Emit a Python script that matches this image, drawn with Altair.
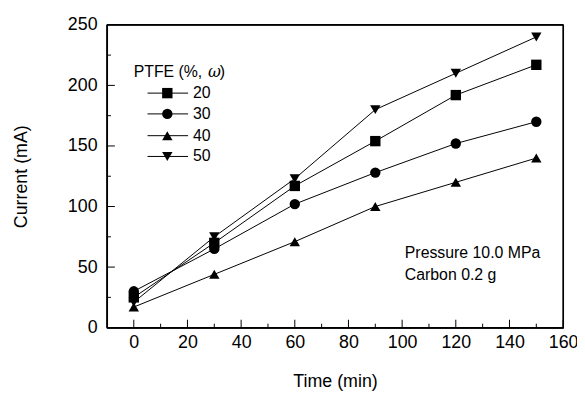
import altair as alt
import pandas as pd

time = [0, 30, 60, 90, 120, 150]
s20 = [25, 70, 117, 154, 192, 217]
s30 = [30, 65, 102, 128, 152, 170]
s40 = [17, 44, 71, 100, 120, 140]
s50 = [21, 75, 123, 180, 210, 240]
series_names = ["20", "30", "40", "50"]
shapes = ["square", "circle", "triangle-up", "triangle-down"]

x_major = [0, 20, 40, 60, 80, 100, 120, 140, 160]
x_minor = [10, 30, 50, 70, 90, 110, 130, 150]
y_major = [50, 100, 150, 200]
y_minor = [25, 75, 125, 175, 225]
x_limits = [-10, 160]
y_limits = [0, 250]

W, H = 461, 306
FONT = "Liberation Sans"

rows = []
for name, vals in zip(series_names, [s20, s30, s40, s50]):
    for t, v in zip(time, vals):
        rows.append({"t": t, "v": v, "s": name})
df = pd.DataFrame(rows)

xs = alt.Scale(domain=x_limits, nice=False, zero=False)
ys = alt.Scale(domain=y_limits, nice=False)

x_axis = alt.Axis(values=x_major, ticks=False, domain=True, domainColor="black",
                  domainWidth=1.2, grid=False,
                  labelFontSize=18, labelFont=FONT, labelColor="black",
                  labelPadding=6, title="Time (min)", titleFontSize=18,
                  titleFont=FONT, titleFontWeight="normal", titleColor="black",
                  titlePadding=21, labelFlush=False)
y_axis = alt.Axis(values=[0, 50, 100, 150, 200, 250], ticks=False, domain=True,
                  domainColor="black", domainWidth=1.2,
                  grid=False, labelFontSize=18, labelFont=FONT, labelColor="black",
                  labelPadding=10, title="Current (mA)", titleFontSize=18,
                  titleFont=FONT, titleFontWeight="normal", titleColor="black",
                  titlePadding=37, labelFlush=False)

base = alt.Chart(df)
lines = base.mark_line(color="black", strokeWidth=1).encode(
    x=alt.X("t:Q", scale=xs, axis=x_axis),
    y=alt.Y("v:Q", scale=ys, axis=y_axis),
    detail="s:N",
)
points = base.mark_point(filled=True, color="black", opacity=1, size=110).encode(
    x=alt.X("t:Q", scale=xs),
    y=alt.Y("v:Q", scale=ys),
    shape=alt.Shape("s:N", scale=alt.Scale(domain=series_names, range=shapes), legend=None),
)

def xticks(vals, length, y0=H, sw=1):
    return alt.Chart(pd.DataFrame({"t": vals})).mark_rule(color="black", strokeWidth=sw).encode(
        x=alt.X("t:Q", scale=xs), y=alt.value(y0), y2=alt.value(y0 - length))

def yticks(vals, length, x0=0, sw=1):
    return alt.Chart(pd.DataFrame({"v": vals})).mark_rule(color="black", strokeWidth=sw).encode(
        y=alt.Y("v:Q", scale=ys), x=alt.value(x0), x2=alt.value(x0 + length))

# plot frame drawn through the scales
frame_v = xticks(x_limits, H, y0=H, sw=1.5)
frame_h = yticks(y_limits, W, x0=0, sw=1.5)

one = pd.DataFrame({"a": [0]})

legend_layers = []
legend_layers.append(alt.Chart(one).mark_text(align="left", baseline="middle", fontSize=16, font=FONT, color="black").encode(
    x=alt.value(27), y=alt.value(48), text=alt.value("PTFE (%, ")))
legend_layers.append(alt.Chart(one).mark_text(align="left", baseline="middle", fontSize=16, font="DejaVu Serif", fontStyle="italic", color="black").encode(
    x=alt.value(102), y=alt.value(48), text=alt.value("ω")))
legend_layers.append(alt.Chart(one).mark_text(align="left", baseline="middle", fontSize=16, font=FONT, color="black").encode(
    x=alt.value(114), y=alt.value(48), text=alt.value(")")))
row_y = [69, 90, 112, 133]
for name, shp, ry in zip(series_names, shapes, row_y):
    legend_layers.append(alt.Chart(one).mark_rule(color="black", strokeWidth=1).encode(
        x=alt.value(41), x2=alt.value(82), y=alt.value(ry)))
    legend_layers.append(alt.Chart(one).mark_point(shape=shp, filled=True, color="black", opacity=1, size=110).encode(
        x=alt.value(61), y=alt.value(ry)))
    legend_layers.append(alt.Chart(one).mark_text(align="left", baseline="middle", fontSize=16, font=FONT, color="black").encode(
        x=alt.value(87), y=alt.value(ry), text=alt.value(name)))

annot = [
    alt.Chart(one).mark_text(align="left", baseline="middle", fontSize=16, font=FONT, color="black").encode(
        x=alt.value(301), y=alt.value(231), text=alt.value("Pressure 10.0 MPa")),
    alt.Chart(one).mark_text(align="left", baseline="middle", fontSize=16, font=FONT, color="black").encode(
        x=alt.value(301), y=alt.value(253), text=alt.value("Carbon 0.2 g")),
]

chart = alt.layer(
    lines, points,
    xticks(x_major, 8), xticks(x_minor, 4),
    yticks(y_major, 8), yticks(y_minor, 4),
    frame_v, frame_h,
    *legend_layers, *annot,
).properties(
    width=W, height=H,
    autosize=alt.AutoSizeParams(type="none"),
    padding={"left": 100, "top": 15, "right": 14, "bottom": 62},
).configure_view(stroke="black", strokeWidth=1.2)

chart.save("out.html", embed_options={"renderer": "svg", "actions": False})
